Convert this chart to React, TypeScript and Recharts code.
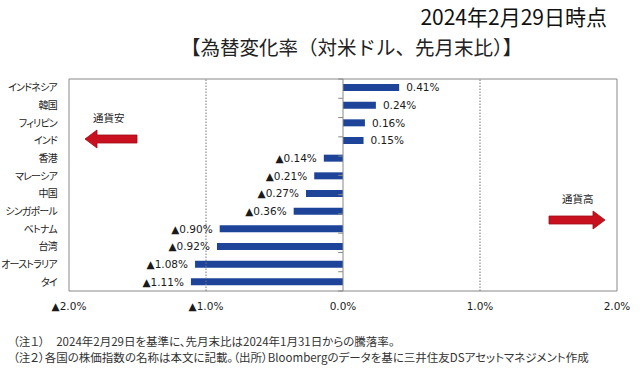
import React from "react";
import {
  BarChart,
  Bar,
  XAxis,
  YAxis,
  ReferenceLine,
  ReferenceArea,
  LabelList,
} from "recharts";

const categories = [
  "インドネシア",
  "韓国",
  "フィリピン",
  "インド",
  "香港",
  "マレーシア",
  "中国",
  "シンガポール",
  "ベトナム",
  "台湾",
  "オーストラリア",
  "タイ",
];
const changes = [0.41, 0.24, 0.16, 0.15, -0.14, -0.21, -0.27, -0.36, -0.9, -0.92, -1.08, -1.11];
const xTicks = [-2, -1, 0, 1, 2];
const categoryBoundaries = [0, 1, 2, 3, 4, 5, 6, 7, 8, 9, 10, 11, 12];

const data = categories.map((name, i) => ({ name, value: changes[i] }));

const CJK = '"Noto Sans CJK JP", "Noto Sans", sans-serif';
const LATIN = '"DejaVu Sans", Verdana, sans-serif';

const fmtPct = (v: number, digits: number) =>
  (v < 0 ? "▲" : "") + Math.abs(v).toFixed(digits) + "%";

const ValueLabel = (props: any) => {
  const { x, y, width, height, value } = props;
  const left = Math.min(x, x + width);
  const right = Math.max(x, x + width);
  const cy = y + height / 2;
  const neg = value < 0;
  return (
    <text
      x={neg ? left - 7 : right + 7}
      y={cy}
      dy="0.36em"
      textAnchor={neg ? "end" : "start"}
      fontSize={10.5}
      fontFamily={LATIN}
      fill="#1a1a1a"
    >
      {fmtPct(value, 2)}
    </text>
  );
};

const CategoryTick = (props: any) => {
  const { x, y, payload } = props;
  return (
    <text
      x={x}
      y={y}
      dy="0.36em"
      textAnchor="end"
      fontSize={10}
      fontFamily={CJK}
      fill="#222"
      letterSpacing={-0.8}
      style={{ fontFeatureSettings: '"palt"' }}
    >
      {payload.value}
    </text>
  );
};

export default function App() {
  return (
    <div
      style={{
        position: "absolute",
        left: 0,
        top: 0,
        width: 640,
        height: 375,
        background: "#fff",
        fontFamily: CJK,
      }}
    >
      <BarChart
        width={640}
        height={375}
        data={data}
        layout="vertical"
        margin={{ top: 79, right: 23, bottom: 54, left: 0 }}
        style={{ position: "absolute", left: 0, top: 0 }}
      >
        <XAxis
          type="number"
          domain={[-2, 2]}
          ticks={xTicks}
          allowDataOverflow
          axisLine={false}
          tickLine={false}
          tickMargin={6}
          height={30}
          tickFormatter={(v: number) => fmtPct(v, 1)}
          tick={{ fontSize: 10.5, fontFamily: LATIN, fill: "#1a1a1a" }}
        />
        <YAxis
          type="category"
          dataKey="name"
          width={69}
          axisLine={false}
          tickLine={false}
          tickMargin={6}
          interval={0}
          tick={<CategoryTick />}
        />
        <YAxis
          yAxisId="bounds"
          type="number"
          domain={[0, 12]}
          reversed
          hide
        />
        <ReferenceLine x={-1} stroke="#777" strokeDasharray="1.5 1.5" />
        <ReferenceLine x={1} stroke="#777" strokeDasharray="1.5 1.5" />
        {categoryBoundaries.map((b) => (
          <ReferenceLine
            key={b}
            yAxisId="bounds"
            segment={[
              { x: -0.035, y: b },
              { x: 0, y: b },
            ]}
            stroke="#888"
          />
        ))}
        <ReferenceLine x={0} stroke="#888" />
        <ReferenceArea x1={-2} x2={2} stroke="#888" fill="none" fillOpacity={0} />
        <Bar dataKey="value" fill="#1d4499" barSize={7} isAnimationActive={false}>
          <LabelList dataKey="value" content={<ValueLabel />} />
        </Bar>
      </BarChart>

      <svg
        width={640}
        height={375}
        style={{ position: "absolute", left: 0, top: 0, pointerEvents: "none" }}
      >
        <text
          x={607}
          y={24.5}
          textAnchor="end"
          fontSize={21}
          fontFamily={CJK}
          fill="#111"
        >
          2024年2月29日時点
        </text>
        <text x={181} y={48} dy="0.36em" fontSize={19.5} fontFamily={CJK} fill="#222">
          【為替変化率（対米ドル、先月末比）】
        </text>
        <text x={93} y={118} dy="0.36em" fontSize={10.5} fontFamily={CJK} fill="#222">
          通貨安
        </text>
        <polygon
          points="85,139 97,130 97,135 137,135 137,143 97,143 97,148"
          fill="#c8101e"
          stroke="#9e0c16"
          strokeWidth={0.8}
        />
        <text x={562} y={199} dy="0.36em" fontSize={10.5} fontFamily={CJK} fill="#222">
          通貨高
        </text>
        <polygon
          points="605,220 593,211 593,216 549,216 549,224 593,224 593,229"
          fill="#c8101e"
          stroke="#9e0c16"
          strokeWidth={0.8}
        />
      </svg>

      <div
        style={{
          position: "absolute",
          left: 13,
          top: 333,
          fontSize: 11.5,
          lineHeight: "16px",
          color: "#333",
          whiteSpace: "nowrap",
          fontFeatureSettings: '"palt"',
        }}
      >
        <div>（注１）　2024年2月29日を基準に、先月末比は2024年1月31日からの騰落率。</div>
        <div>（注２）各国の株価指数の名称は本文に記載。（出所）Bloombergのデータを基に三井住友DSアセットマネジメント作成</div>
      </div>
    </div>
  );
}
